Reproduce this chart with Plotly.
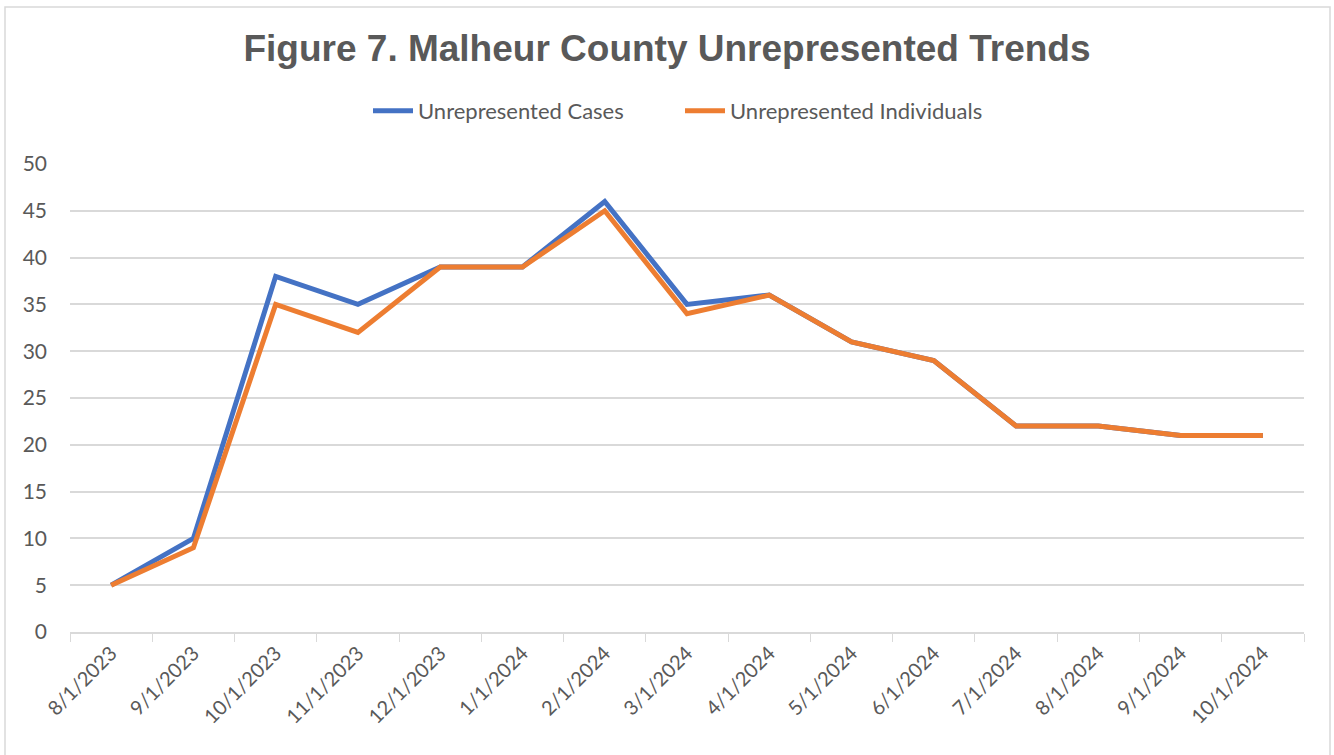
import plotly.graph_objects as go

dates = [
    "8/1/2023", "9/1/2023", "10/1/2023", "11/1/2023", "12/1/2023",
    "1/1/2024", "2/1/2024", "3/1/2024", "4/1/2024", "5/1/2024",
    "6/1/2024", "7/1/2024", "8/1/2024", "9/1/2024", "10/1/2024",
]
unrepresented_cases = [5, 10, 38, 35, 39, 39, 46, 35, 36, 31, 29, 22, 22, 21, 21]
unrepresented_individuals = [5, 9, 35, 32, 39, 39, 45, 34, 36, 31, 29, 22, 22, 21, 21]

GRAY = "#595959"
LABEL_FONT = "Lato, Open Sans, sans-serif"

fig = go.Figure()

fig.add_trace(go.Scatter(
    x=dates,
    y=unrepresented_cases,
    mode="lines",
    name="Unrepresented Cases",
    line=dict(color="#4472C4", width=5),
))

fig.add_trace(go.Scatter(
    x=dates,
    y=unrepresented_individuals,
    mode="lines",
    name="Unrepresented Individuals",
    line=dict(color="#ED7D31", width=5),
))

fig.update_layout(
    width=1334,
    height=755,
    margin=dict(l=70, r=30, t=164, b=123),
    paper_bgcolor="white",
    plot_bgcolor="white",
    title=dict(
        text="<b>Figure 7. Malheur County Unrepresented Trends</b>",
        x=0.5,
        xref="container",
        xanchor="center",
        y=1 - 48 / 755,
        yanchor="middle",
        font=dict(family="Liberation Sans, Arial, sans-serif", size=37, color=GRAY),
    ),
    legend=dict(
        orientation="h",
        x=(680 - 70) / 1234,
        xanchor="center",
        y=1.0 + (164 - 111) / 468,
        yanchor="middle",
        font=dict(family=LABEL_FONT, size=22, color=GRAY),
        itemwidth=40,
        entrywidth=257,
    ),
    showlegend=True,
)

fig.update_xaxes(
    type="category",
    range=[-0.5, len(dates) - 0.5],
    automargin=False,
    tickson="boundaries",
    ticks="outside",
    ticklen=8,
    tickcolor="#d9d9d9",
    showline=True,
    linecolor="#d9d9d9",
    linewidth=1.5,
    showgrid=False,
    tickangle=-45,
    tickfont=dict(family=LABEL_FONT, size=20, color=GRAY),
)

fig.update_yaxes(
    range=[0, 50],
    dtick=5,
    automargin=False,
    showgrid=True,
    gridcolor="#d9d9d9",
    gridwidth=1.5,
    zeroline=False,
    ticks="",
    ticklabelstandoff=22,
    tickfont=dict(family=LABEL_FONT, size=21, color=GRAY),
)

# chart border like the original Excel frame
fig.add_shape(
    type="rect",
    xref="paper", yref="paper",
    x0=(5 - 70) / 1234, x1=(1330 - 70) / 1234,
    y0=(632 - 770) / 468, y1=(632 - 7) / 468,
    line=dict(color="#d9d9d9", width=1.5),
    layer="below",
)

# drop the default page margin so the chart sits at the window corner
fig.write_html(
    "out.html",
    config={"displayModeBar": False},
    post_script="document.body.style.margin = '0';",
)
